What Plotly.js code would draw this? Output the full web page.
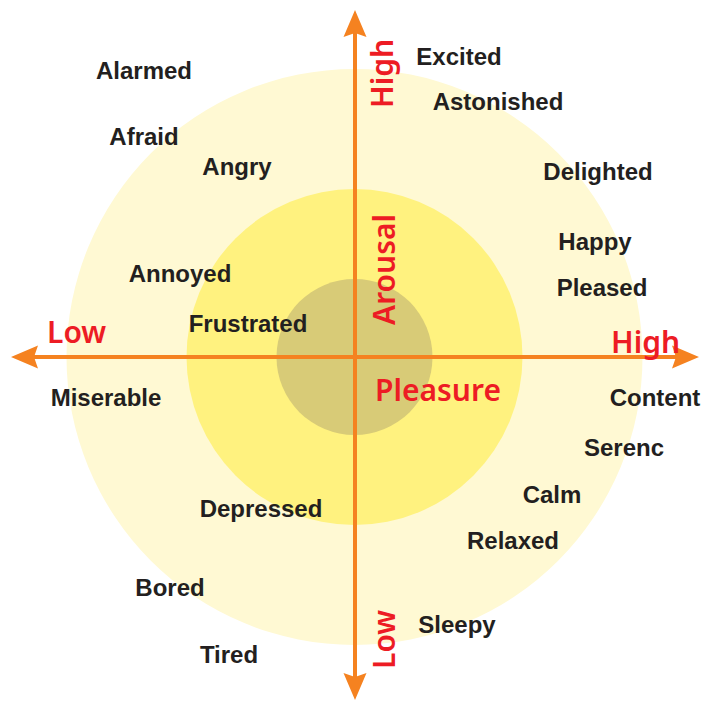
<!DOCTYPE html>
<html>
<head>
<meta charset="utf-8">
<script src="https://cdn.plot.ly/plotly-3.0.1.min.js"></script>
<style>html,body{margin:0;padding:0;background:#fff;}#chart{width:701px;height:702px;}</style>
</head>
<body>
<div id="chart"></div>
<script>
// Emotion labels (pleasure = x, arousal = y)
const emotions = ["Excited","Astonished","Delighted","Happy","Pleased","Content","Serenc","Calm","Relaxed","Sleepy",
  "Alarmed","Afraid","Angry","Annoyed","Frustrated","Miserable","Depressed","Bored","Tired"];
const pleasure = [104,143,243,240,247,300,269,197,158,102,
  -211,-211,-118,-175,-107,-249,-94,-185,-126];
const arousal = [298,253,183,113,67,-43,-93,-140,-186,-270,
  284,218,188,81,31,-43,-154,-233,-300];

// Rings (radii)
const ringRadii = [288, 168, 78];
const ringColors = ["#FFF9D3", "#FFF27F", "#D8CB77"];

// Axis labels
const axisLabels = ["Low","High","High","Arousal","Pleasure","Low"];
const axisLabelX = [-279, 290, 26, 28, 83, 28];
const axisLabelY = [26, 16, 283, 87, -32, -283];
const axisLabelAngle = [0, 0, -90, -90, 0, -90];

const xRange = [-355, 346];
const yRange = [-345, 357];
const cx = -0.5, cy = 0;
const orange = "#F58220";
const red = "#ED1C24";

const shapes = [];
ringRadii.forEach((r, i) => {
  shapes.push({type:"circle", xref:"x", yref:"y", x0:cx-r, x1:cx+r, y0:cy-r, y1:cy+r,
    fillcolor: ringColors[i], line:{width:0}, layer:"below"});
});
// arrows
const tipH = 344, tipTop = 347, tipBot = -343;
const L = 27, W = 11.5, N = 23;
shapes.push({type:"line", xref:"x", yref:"y", x0:-tipH+10, x1:tipH-10, y0:0, y1:0, line:{color:orange, width:4}, layer:"below"});
shapes.push({type:"line", xref:"x", yref:"y", x0:0, x1:0, y0:tipBot+10, y1:tipTop-10, line:{color:orange, width:4}, layer:"below"});
function tri(pts){ return "M" + pts.map(p=>p[0]+","+p[1]).join(" L") + " Z"; }
[
  [[-tipH,0],[-tipH+L,W],[-tipH+N,0],[-tipH+L,-W]],
  [[tipH,0],[tipH-L,W],[tipH-N,0],[tipH-L,-W]],
  [[0,tipTop],[-W,tipTop-L],[0,tipTop-N],[W,tipTop-L]],
  [[0,tipBot],[-W,tipBot+L],[0,tipBot+N],[W,tipBot+L]]
].forEach(p => shapes.push({type:"path", xref:"x", yref:"y", path:tri(p), fillcolor:orange, line:{width:0}, layer:"below"}));

const annotations = axisLabels.map((t, i) => ({
  x: axisLabelX[i], y: axisLabelY[i], xref:"x", yref:"y", text:t, showarrow:false,
  textangle: axisLabelAngle[i], xanchor:"center", yanchor:"middle",
  font:{family:"Noto Sans, Lato, sans-serif", size:30, color:red, weight:600}
}));

const trace = {
  type:"scatter", mode:"text", x:pleasure, y:arousal, text:emotions,
  textposition:"middle center", hoverinfo:"skip",
  textfont:{family:"Liberation Sans, Arial, sans-serif", size:24, color:"#231F20", weight:"bold"}
};

Plotly.newPlot("chart", [trace], {
  width:701, height:702, margin:{l:0,r:0,t:0,b:0},
  paper_bgcolor:"#fff", plot_bgcolor:"#fff", showlegend:false,
  xaxis:{range:xRange, visible:false, fixedrange:true},
  yaxis:{range:yRange, visible:false, fixedrange:true},
  shapes: shapes, annotations: annotations
}, {staticPlot:true, displayModeBar:false});
</script>
</body>
</html>
